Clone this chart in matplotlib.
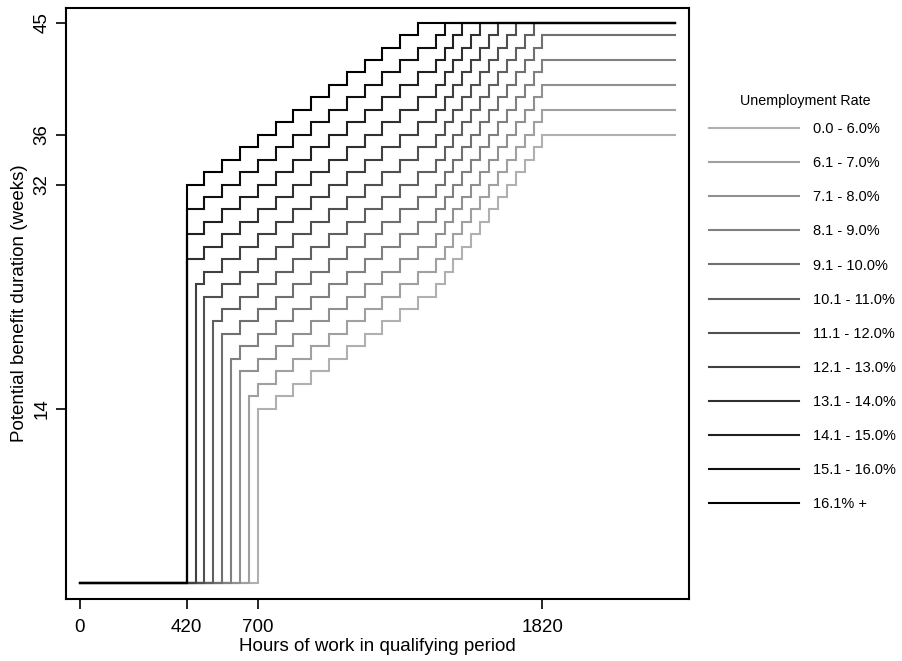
import numpy as np
import matplotlib
matplotlib.use("Agg")
import matplotlib.pyplot as plt

plt.rcParams['font.family'] = ['Liberation Sans', 'DejaVu Sans']

# Unemployment-rate bands (lowest to highest)
rate_labels = ["0.0 - 6.0%", "6.1 - 7.0%", "7.1 - 8.0%", "8.1 - 9.0%",
               "9.1 - 10.0%", "10.1 - 11.0%", "11.1 - 12.0%", "12.1 - 13.0%",
               "13.1 - 14.0%", "14.1 - 15.0%", "15.1 - 16.0%", "16.1% +"]

# Minimum hours needed to qualify in each band
min_hours = [700, 665, 630, 595, 560, 525, 490, 455, 420, 420, 420, 420]

# Extra weeks granted in each band on top of the base schedule
band_bonus = [0, 2, 4, 6, 8, 10, 12, 14, 16, 18, 20, 22]

# Base schedule: hours threshold -> base weeks
hour_steps = [420, 490, 560, 630, 700, 770, 840, 910, 980, 1050, 1120, 1190,
              1260, 1330, 1400, 1435, 1470, 1505, 1540, 1575, 1610, 1645,
              1680, 1715, 1750, 1785, 1820]
base_weeks = [10, 11, 12, 13, 14, 15, 16, 17, 18, 19, 20, 21,
              22, 23, 24, 25, 26, 27, 28, 29, 30, 31,
              32, 33, 34, 35, 36]

max_weeks = 45
hours_end = 2340

# Grey shades from light (low rate) to black (high rate)
grey_levels = [176, 160, 144, 128, 112, 96, 80, 64, 48, 32, 16, 0]

fig = plt.figure(figsize=(9.02, 6.61), dpi=100)
ax = fig.add_axes([66 / 902, 1 - 599 / 661, (689 - 66) / 902, (599 - 8) / 661])

handles = []
for k in range(len(rate_labels)):
    start = min_hours[k]
    xs = [0, start]
    ys = [0, 0]
    idx = max(i for i, h in enumerate(hour_steps) if h <= start)
    cur = min(max_weeks, base_weeks[idx] + band_bonus[k])
    xs.append(start)
    ys.append(cur)
    for i, h in enumerate(hour_steps):
        if h <= start:
            continue
        w = min(max_weeks, base_weeks[i] + band_bonus[k])
        if w != cur:
            xs += [h, h]
            ys += [cur, w]
            cur = w
    xs.append(hours_end)
    ys.append(cur)
    g = grey_levels[k] / 255
    line, = ax.plot(xs, ys, color=(g, g, g), lw=1.5, solid_joinstyle='miter',
                    zorder=2 + k)
    handles.append(line)

ax.set_xlim(-55, 2397)
ax.set_ylim(-1.29, 46.18)

ax.set_xticks([0, 420, 700, 1820])
ax.set_yticks([14, 32, 36, 45])
ax.tick_params(axis='both', direction='out', length=7, width=1.2,
               labelsize=13.5)
ax.tick_params(axis='x', pad=7.5)
ax.tick_params(axis='y', pad=4)
for lab in ax.get_yticklabels():
    lab.set_rotation(90)
    lab.set_va('center')
for s in ax.spines.values():
    s.set_linewidth(1.5)

ax.set_xlabel("Hours of work in qualifying period", fontsize=13.5, labelpad=1)
ax.set_ylabel("Potential benefit duration (weeks)", fontsize=13.5, labelpad=4)

fig.text(805 / 902, 1 - 101 / 661, "Unemployment Rate", fontsize=10.3,
         ha='center', va='center')
leg = fig.legend(handles, rate_labels,
                 loc='upper left', bbox_to_anchor=(709 / 902, 1 - 122 / 661),
                 frameon=False, fontsize=10.5,
                 handlelength=6.15, handletextpad=1.0, labelspacing=1.38,
                 borderaxespad=0, borderpad=0)

fig.savefig("out.png", dpi=100)
